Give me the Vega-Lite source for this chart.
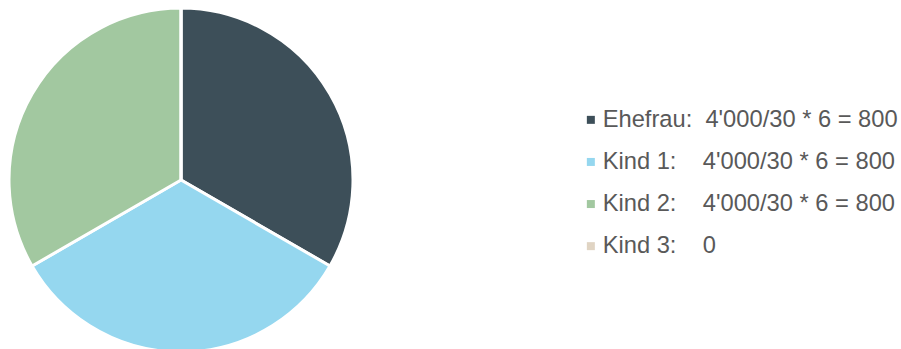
{
  "$schema": "https://vega.github.io/schema/vega-lite/v6.json",
  "width": 344,
  "height": 344,
  "padding": {"left": 3, "top": 2, "right": 0, "bottom": 0},
  "background": "white",
  "data": {"values": [
    {"person": "Ehefrau", "label": "Ehefrau:\u00a0\u00a04'000/30 * 6 = 800", "betrag": 800},
    {"person": "Kind 1", "label": "Kind 1:\u00a0\u00a0\u00a0\u00a04'000/30 * 6 = 800", "betrag": 800},
    {"person": "Kind 2", "label": "Kind 2:\u00a0\u00a0\u00a0\u00a04'000/30 * 6 = 800", "betrag": 800},
    {"person": "Kind 3", "label": "Kind 3:\u00a0\u00a0\u00a0\u00a00", "betrag": 0}
  ]},
  "mark": {"type": "arc", "stroke": "white", "strokeWidth": 3},
  "encoding": {
    "theta": {"field": "betrag", "type": "quantitative", "stack": true},
    "color": {
      "field": "label",
      "type": "nominal",
      "sort": null,
      "scale": {
        "domain": ["Ehefrau:\u00a0\u00a04'000/30 * 6 = 800", "Kind 1:\u00a0\u00a0\u00a0\u00a04'000/30 * 6 = 800", "Kind 2:\u00a0\u00a0\u00a0\u00a04'000/30 * 6 = 800", "Kind 3:\u00a0\u00a0\u00a0\u00a00"],
        "range": ["#3d4f59", "#95d7ef", "#a2c8a0", "#e0d4c3"]
      },
      "legend": {
        "title": null,
        "orient": "none",
        "legendX": 570,
        "legendY": 100,
        "padding": 0,
        "symbolType": "square",
        "symbolSize": 64,
        "symbolStrokeWidth": 0,
        "labelFont": "Liberation Sans",
        "labelFontSize": 23.7,
        "labelColor": "#595959",
        "labelOffset": 0,
        "labelLimit": 400,
        "rowPadding": 17.1
      }
    },
    "order": {"field": "person", "type": "nominal"}
  },
  "config": {"view": {"stroke": null}}
}
